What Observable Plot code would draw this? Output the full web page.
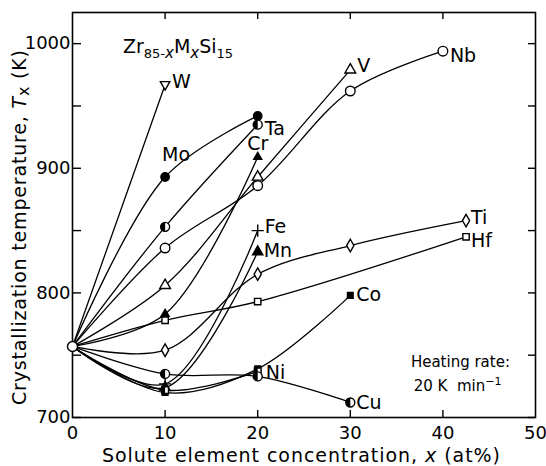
<!DOCTYPE html>
<html><head><meta charset="utf-8">
<script src="https://cdn.jsdelivr.net/npm/d3@7"></script>
<script src="https://cdn.jsdelivr.net/npm/@observablehq/plot@0.6"></script>
<style>body{margin:0;background:#fff} svg{display:block}</style>
</head><body><div id="chart"></div>
<script>
// ---- data: [x (at%), Tx (K)] ----
const W  = [[0,757],[10,967]];
const Mo = [[0,757],[10,893],[20,942]];
const Ta = [[0,757],[10,853],[20,935]];
const Nb = [[0,757],[10,836],[20,886],[30,962],[40,994]];
const V  = [[0,757],[10,806],[20,893],[30,979]];
const Cr = [[0,757],[10,783],[20,909]];
const Fe = [[0,757],[10,727],[20,850]];
const Mn = [[0,757],[10,724],[20,833]];
const Ti = [[0,757],[10,754],[20,815],[30,838],[42.5,858]];
const Hf = [[0,757],[10,778],[20,793],[42.5,845]];
const Co = [[0,757],[10,720],[20,739],[30,798]];
const Ni = [[0,757],[10,722],[20,737]];
const Cu = [[0,757],[10,735],[20,733],[30,712]];

const seriesNames = ["W","Mo","Ta","Nb","V","Cr","Fe","Mn","Ti","Hf","Co","Ni","Cu"];
const seriesData  = [W, Mo, Ta, Nb, V, Cr, Fe, Mn, Ti, Hf, Co, Ni, Cu];
const xTicks = [0,10,20,30,40,50];
const yTicks = [700,800,900,1000];
const yMinor = [750,850,950];
const xInner = [10,20,30,40];

const rows = seriesNames.flatMap((name,i)=>seriesData[i].map(([x,T])=>({name,x,T})));

// ---- custom symbols ----
const invTri = {draw(c,s){const r=Math.sqrt(s/Math.PI)*1.25; c.moveTo(0,r); c.lineTo(-r*0.9,-r*0.6); c.lineTo(r*0.9,-r*0.6); c.closePath();}};
const halfLeftCircle = {draw(c,s){const r=Math.sqrt(s/Math.PI); c.moveTo(0,-r); c.arc(0,0,r,-Math.PI/2,Math.PI/2,true); c.closePath();}};
const halfLeftSquare = {draw(c,s){const r=Math.sqrt(s/Math.PI)*0.9; c.moveTo(0,-r); c.lineTo(-r,-r); c.lineTo(-r,r); c.lineTo(0,r); c.closePath();}};

const style = {
  W:{symbol:invTri, fill:"white", r:4.2},
  Mo:{symbol:"circle", fill:"black", r:4.2},
  Ta:{symbol:"circle", fill:"white", r:4.5, half:halfLeftCircle},
  Nb:{symbol:"circle", fill:"white", r:4.8},
  V:{symbol:"triangle", fill:"white", r:4},
  Cr:{symbol:"triangle", fill:"black", r:3},
  Fe:{symbol:"plus", fill:"none", r:4},
  Mn:{symbol:"triangle", fill:"black", r:3.8},
  Ti:{symbol:"diamond", fill:"white", r:3.8},
  Hf:{symbol:"square", fill:"white", r:3.6},
  Co:{symbol:"square", fill:"black", r:3.2},
  Ni:{symbol:"square", fill:"white", r:3.8, half:halfLeftSquare},
  Cu:{symbol:"circle", fill:"white", r:4.5, half:halfLeftCircle}
};
const labelPos = {
  W:{i:-1,dx:7,dy:-3,anchor:"start"},
  Mo:{i:1,dx:11,dy:-22,anchor:"middle"},
  Ta:{i:-1,dx:7,dy:4,anchor:"start"},
  Nb:{i:-1,dx:7,dy:5,anchor:"start"},
  V:{i:-1,dx:7,dy:-4,anchor:"start"},
  Cr:{i:-1,dx:0,dy:-13,anchor:"middle"},
  Fe:{i:-1,dx:7,dy:-4,anchor:"start"},
  Mn:{i:-1,dx:6,dy:-1,anchor:"start"},
  Ti:{i:-1,dx:5,dy:-3,anchor:"start"},
  Hf:{i:-1,dx:5,dy:4,anchor:"start"},
  Co:{i:-1,dx:6,dy:0,anchor:"start"},
  Ni:{i:-1,dx:8,dy:2,anchor:"start"},
  Cu:{i:-1,dx:6,dy:0,anchor:"start"}
};

const width=546, height=466, mL=72, mR=11, mT=12, mB=49;
const pw = width-mL-mR, ph = height-mT-mB;

const marks = [
  Plot.frame({stroke:"black", strokeWidth:1.6}),
  Plot.tickY([...yTicks,...yMinor], {y:d=>d, stroke:"black", strokeWidth:1.4, insetRight:pw-9}),
  Plot.tickY([...yTicks,...yMinor], {y:d=>d, stroke:"black", strokeWidth:1.4, insetLeft:pw-7}),
  Plot.tickX(xInner, {x:d=>d, stroke:"black", strokeWidth:1.4, insetTop:ph-7}),
  Plot.tickX(xInner, {x:d=>d, stroke:"black", strokeWidth:1.4, insetBottom:ph-7}),
  Plot.axisY(yTicks, {tickSize:0, tickPadding:2, fontSize:18, label:null, tickFormat:d=>String(d)}),
  Plot.axisX(xTicks, {tickSize:0, tickPadding:9, fontSize:18, label:null, tickFormat:d=>String(d)}),
  Plot.line(rows, {x:"x", y:"T", z:"name", curve:"catmull-rom", stroke:"black", strokeWidth:1.3}),
];
for (const name of seriesNames) {
  const st = style[name];
  const pts = rows.filter(d=>d.name===name && d.x>0);
  marks.push(Plot.dot(pts, {x:"x", y:"T", symbol:st.symbol, r:st.r, fill:st.fill, stroke:"black", strokeWidth:1.4}));
  if (st.half) marks.push(Plot.dot(pts, {x:"x", y:"T", symbol:st.half, r:st.r, fill:"black", stroke:"none"}));
  const lp = labelPos[name];
  const all = rows.filter(d=>d.name===name);
  const anchorPt = lp.i<0 ? all[all.length-1] : all[lp.i];
  marks.push(Plot.text([anchorPt], {x:"x", y:"T", text:()=>name, dx:lp.dx, dy:lp.dy, textAnchor:lp.anchor, fontSize:19, fill:"black"}));
}
marks.push(Plot.dot(rows.filter(d=>d.x===0).slice(0,1), {x:"x", y:"T", r:5, fill:"white", stroke:"black", strokeWidth:1.4}));

const plot = Plot.plot({
  width, height, marginLeft:mL, marginRight:mR, marginTop:mT, marginBottom:mB,
  style:{fontFamily:"DejaVu Sans", fontSize:"18px", background:"white", color:"black"},
  x:{domain:[0,50]}, y:{domain:[700,1025]},
  marks
});
document.getElementById("chart").appendChild(plot);

// ---- rich-text annotations positioned through the scales ----
const sx = plot.scale("x"), sy = plot.scale("y");
const svg = d3.select(plot);
const ff = "DejaVu Sans";
const txt = () => svg.append("text").attr("font-family", ff).attr("fill","black").attr("text-anchor","start");

// title formula
const t = txt().attr("x", sx.apply(5.5)).attr("y", sy.apply(992)).attr("font-size", 19);
t.append("tspan").text("Zr");
t.append("tspan").attr("dy",5).attr("font-size",13).text("85-");
t.append("tspan").attr("font-size",15).attr("font-style","italic").text("x");
t.append("tspan").attr("dy",-5).text("M");
t.append("tspan").attr("dy",5).attr("font-size",15).attr("font-style","italic").text("x");
t.append("tspan").attr("dy",-5).text("Si");
t.append("tspan").attr("dy",5).attr("font-size",13).text("15");

// heating rate
txt().attr("x", sx.apply(36.6)).attr("y", sy.apply(740.5)).attr("font-size", 15).text("Heating rate:");
const h = txt().attr("x", sx.apply(36.9)).attr("y", sy.apply(720.5)).attr("font-size", 15);
h.append("tspan").text("20 K  min");
h.append("tspan").attr("dy",-6).attr("font-size",11).text("−1");

// x label
const xl = txt().attr("x", 102).attr("y", 462).attr("font-size", 19)
  .attr("textLength", 398).attr("lengthAdjust","spacing");
xl.append("tspan").text("Solute element concentration, ");
xl.append("tspan").attr("font-style","italic").text("x");
xl.append("tspan").text(" (at%)");

// y label
const yl = txt().attr("transform","translate(26,405) rotate(-90)").attr("font-size", 19)
  .attr("textLength", 355).attr("lengthAdjust","spacing");
yl.append("tspan").text("Crystallization temperature, ");
yl.append("tspan").attr("font-style","italic").text("T");
yl.append("tspan").attr("dy",3).attr("font-size",16).text("x");
yl.append("tspan").attr("dy",-3).text(" (K)");
</script>
</body></html>
